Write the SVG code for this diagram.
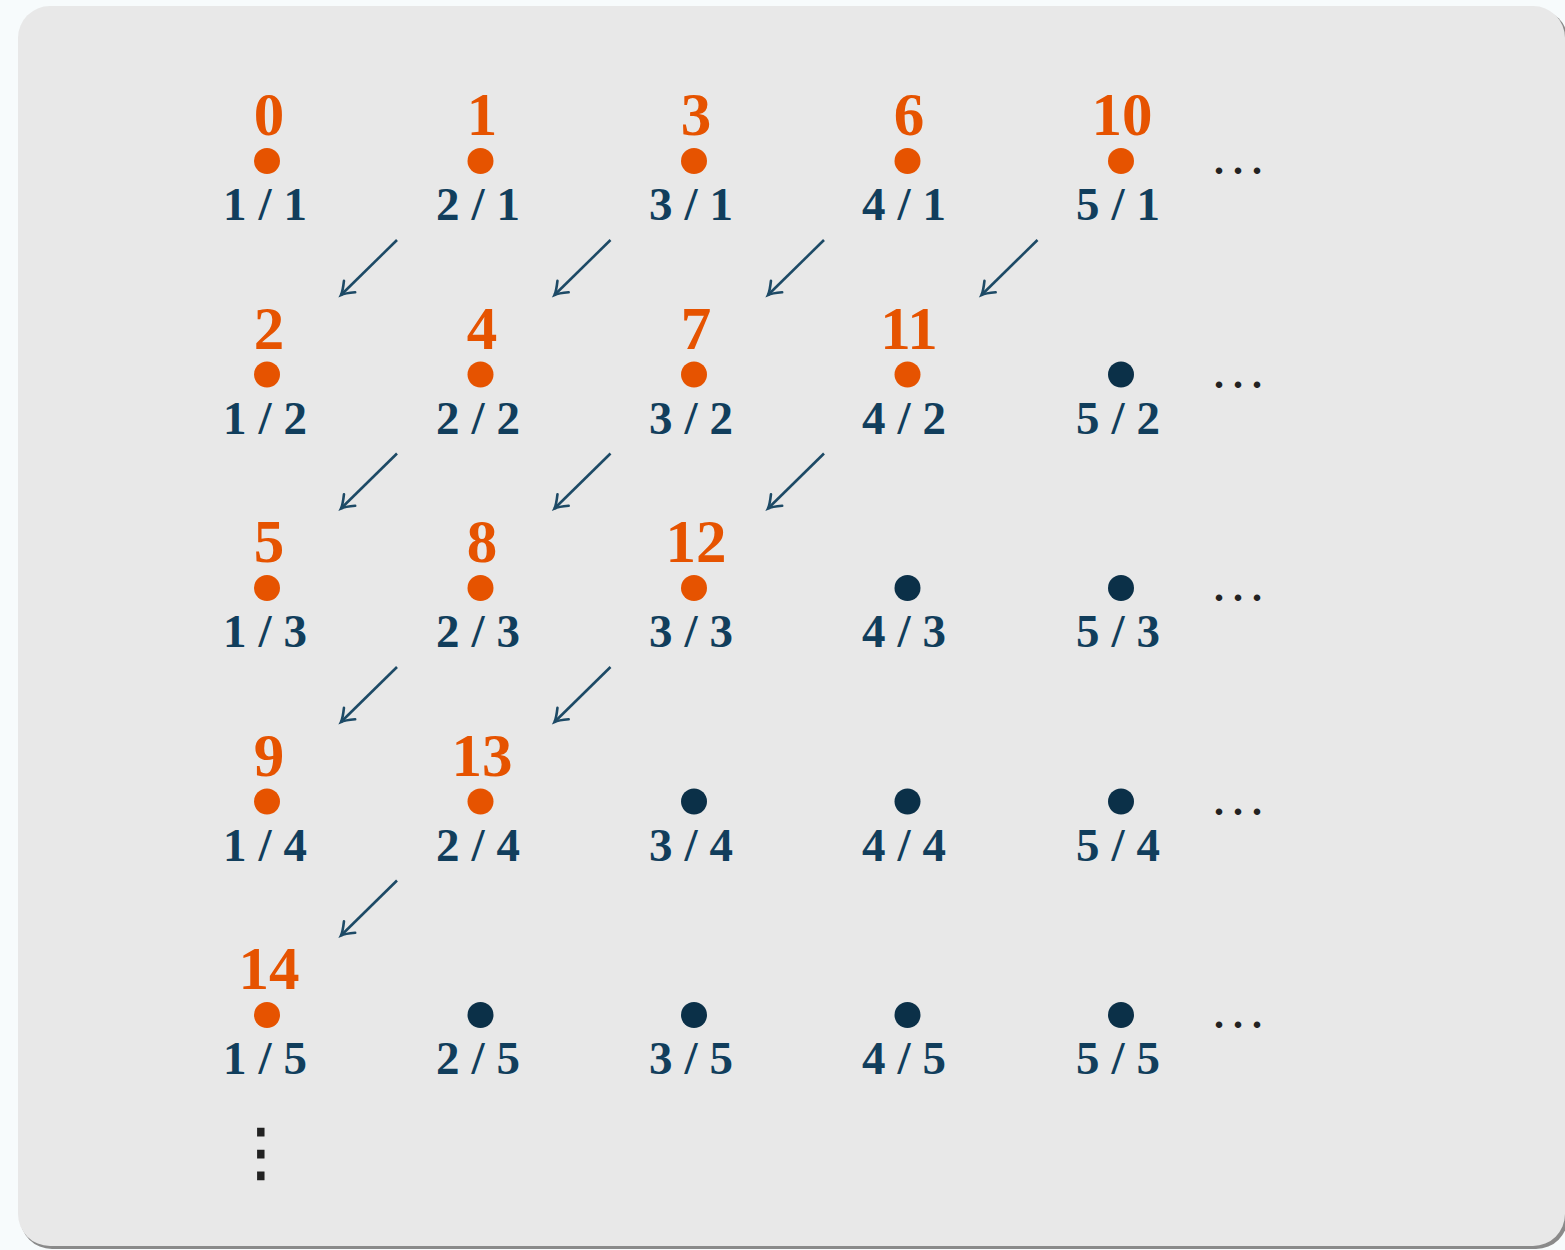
<svg xmlns="http://www.w3.org/2000/svg" width="1565" height="1250" viewBox="0 0 1565 1250">
<style>
.num{font-family:"Liberation Serif","DejaVu Serif",serif;font-weight:bold;font-size:61px;fill:#e65300;text-anchor:middle}
.lbl{font-family:"Liberation Serif","DejaVu Serif",serif;font-weight:bold;font-size:47px;fill:#113e5c;text-anchor:middle}
.on{fill:#e65300}
.off{fill:#0b3048}
.arr{stroke:#1d4a66;stroke-width:2.6;fill:none;marker-end:url(#ah)}
.dots{font-family:"Liberation Serif",serif;font-weight:bold;font-size:40px;fill:#222;letter-spacing:9px}
.vdots{font-family:"DejaVu Sans",sans-serif;font-size:64px;fill:#222;text-anchor:middle;stroke:#222;stroke-width:0.8}
</style>
<defs>
<marker id="ah" markerUnits="userSpaceOnUse" markerWidth="24" markerHeight="24" refX="0" refY="0" viewBox="-14 -12 16 24" orient="auto">
<path d="M -12 -8 Q -4 -1.5 0 0 Q -4 1.5 -12 8" fill="none" stroke="#1d4a66" stroke-width="2.6" stroke-linecap="round"/>
</marker>
</defs>
<rect width="1565" height="1250" fill="#f7fbfc"/>
<rect x="20" y="9" width="1548" height="1240" rx="32" fill="#8a8a8a"/>
<rect x="18" y="6" width="1547" height="1240" rx="32" fill="#e8e8e8"/>
<g id="connectors">
<path class="arr" d="M397 240 L341 295"/>
<path class="arr" d="M610.5 240 L554.5 295"/>
<path class="arr" d="M824 240 L768 295"/>
<path class="arr" d="M1037.5 240 L981.5 295"/>
<path class="arr" d="M397 453.5 L341 508.5"/>
<path class="arr" d="M610.5 453.5 L554.5 508.5"/>
<path class="arr" d="M824 453.5 L768 508.5"/>
<path class="arr" d="M397 667 L341 722"/>
<path class="arr" d="M610.5 667 L554.5 722"/>
<path class="arr" d="M397 880.5 L341 935.5"/>
</g>
<g id="n-1-1"><text class="num" x="269" y="135">0</text><circle class="on" cx="267" cy="161" r="13"/><text class="lbl" x="265" y="220" textLength="84" lengthAdjust="spacing">1/1</text></g>
<g id="n-2-1"><text class="num" x="482" y="135">1</text><circle class="on" cx="480.5" cy="161" r="13"/><text class="lbl" x="478" y="220" textLength="84" lengthAdjust="spacing">2/1</text></g>
<g id="n-3-1"><text class="num" x="696" y="135">3</text><circle class="on" cx="694" cy="161" r="13"/><text class="lbl" x="691" y="220" textLength="84" lengthAdjust="spacing">3/1</text></g>
<g id="n-4-1"><text class="num" x="909" y="135">6</text><circle class="on" cx="907.5" cy="161" r="13"/><text class="lbl" x="904" y="220" textLength="84" lengthAdjust="spacing">4/1</text></g>
<g id="n-5-1"><text class="num" x="1122" y="135">10</text><circle class="on" cx="1121" cy="161" r="13"/><text class="lbl" x="1118" y="220" textLength="84" lengthAdjust="spacing">5/1</text></g>

<g id="n-1-2"><text class="num" x="269" y="348.5">2</text><circle class="on" cx="267" cy="374.5" r="13"/><text class="lbl" x="265" y="433.5" textLength="84" lengthAdjust="spacing">1/2</text></g>
<g id="n-2-2"><text class="num" x="482" y="348.5">4</text><circle class="on" cx="480.5" cy="374.5" r="13"/><text class="lbl" x="478" y="433.5" textLength="84" lengthAdjust="spacing">2/2</text></g>
<g id="n-3-2"><text class="num" x="696" y="348.5">7</text><circle class="on" cx="694" cy="374.5" r="13"/><text class="lbl" x="691" y="433.5" textLength="84" lengthAdjust="spacing">3/2</text></g>
<g id="n-4-2"><text class="num" x="909" y="348.5">11</text><circle class="on" cx="907.5" cy="374.5" r="13"/><text class="lbl" x="904" y="433.5" textLength="84" lengthAdjust="spacing">4/2</text></g>
<g id="n-5-2"><circle class="off" cx="1121" cy="374.5" r="13"/><text class="lbl" x="1118" y="433.5" textLength="84" lengthAdjust="spacing">5/2</text></g>

<g id="n-1-3"><text class="num" x="269" y="562">5</text><circle class="on" cx="267" cy="588" r="13"/><text class="lbl" x="265" y="647" textLength="84" lengthAdjust="spacing">1/3</text></g>
<g id="n-2-3"><text class="num" x="482" y="562">8</text><circle class="on" cx="480.5" cy="588" r="13"/><text class="lbl" x="478" y="647" textLength="84" lengthAdjust="spacing">2/3</text></g>
<g id="n-3-3"><text class="num" x="696" y="562">12</text><circle class="on" cx="694" cy="588" r="13"/><text class="lbl" x="691" y="647" textLength="84" lengthAdjust="spacing">3/3</text></g>
<g id="n-4-3"><circle class="off" cx="907.5" cy="588" r="13"/><text class="lbl" x="904" y="647" textLength="84" lengthAdjust="spacing">4/3</text></g>
<g id="n-5-3"><circle class="off" cx="1121" cy="588" r="13"/><text class="lbl" x="1118" y="647" textLength="84" lengthAdjust="spacing">5/3</text></g>

<g id="n-1-4"><text class="num" x="269" y="775.5">9</text><circle class="on" cx="267" cy="801.5" r="13"/><text class="lbl" x="265" y="860.5" textLength="84" lengthAdjust="spacing">1/4</text></g>
<g id="n-2-4"><text class="num" x="482" y="775.5">13</text><circle class="on" cx="480.5" cy="801.5" r="13"/><text class="lbl" x="478" y="860.5" textLength="84" lengthAdjust="spacing">2/4</text></g>
<g id="n-3-4"><circle class="off" cx="694" cy="801.5" r="13"/><text class="lbl" x="691" y="860.5" textLength="84" lengthAdjust="spacing">3/4</text></g>
<g id="n-4-4"><circle class="off" cx="907.5" cy="801.5" r="13"/><text class="lbl" x="904" y="860.5" textLength="84" lengthAdjust="spacing">4/4</text></g>
<g id="n-5-4"><circle class="off" cx="1121" cy="801.5" r="13"/><text class="lbl" x="1118" y="860.5" textLength="84" lengthAdjust="spacing">5/4</text></g>

<g id="n-1-5"><text class="num" x="269" y="989">14</text><circle class="on" cx="267" cy="1015" r="13"/><text class="lbl" x="265" y="1074" textLength="84" lengthAdjust="spacing">1/5</text></g>
<g id="n-2-5"><circle class="off" cx="480.5" cy="1015" r="13"/><text class="lbl" x="478" y="1074" textLength="84" lengthAdjust="spacing">2/5</text></g>
<g id="n-3-5"><circle class="off" cx="694" cy="1015" r="13"/><text class="lbl" x="691" y="1074" textLength="84" lengthAdjust="spacing">3/5</text></g>
<g id="n-4-5"><circle class="off" cx="907.5" cy="1015" r="13"/><text class="lbl" x="904" y="1074" textLength="84" lengthAdjust="spacing">4/5</text></g>
<g id="n-5-5"><circle class="off" cx="1121" cy="1015" r="13"/><text class="lbl" x="1118" y="1074" textLength="84" lengthAdjust="spacing">5/5</text></g>

<g id="ellipses">
<text class="dots" x="1214" y="174">...</text>
<text class="dots" x="1214" y="387.5">...</text>
<text class="dots" x="1214" y="601">...</text>
<text class="dots" x="1214" y="814.5">...</text>
<text class="dots" x="1214" y="1028">...</text>
<text class="vdots" x="261" y="1174">⋮</text>
</g>
</svg>
